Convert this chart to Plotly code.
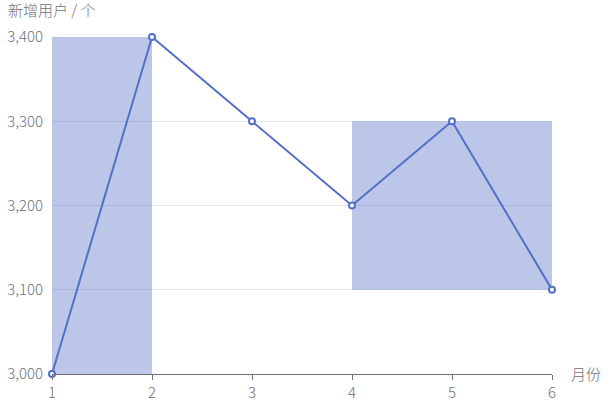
import plotly.graph_objects as go

months = [1, 2, 3, 4, 5, 6]
new_users = [3000, 3400, 3300, 3200, 3300, 3100]

# mark areas: (x start, x end, y start, y end)
area_x0 = [1, 4]
area_x1 = [2, 6]
area_y0 = [3000, 3100]
area_y1 = [3400, 3300]

y_ticks = [3000, 3100, 3200, 3300, 3400]

FONT = "Noto Sans CJK SC, Microsoft YaHei, sans-serif"
AXIS_COLOR = "#6E7079"
FS = 15
FW = 300

fig = go.Figure()

for x0, x1, y0, y1 in zip(area_x0, area_x1, area_y0, area_y1):
    fig.add_shape(type="rect", xref="x", yref="y", x0=x0, x1=x1, y0=y0, y1=y1,
                  fillcolor="rgba(84,112,198,0.4)", line=dict(width=0), layer="between")

fig.add_trace(go.Scatter(
    x=months, y=new_users, mode="lines+markers",
    line=dict(color="#5470c6", width=2),
    marker=dict(symbol="circle", size=6, color="white",
                line=dict(color="#5470c6", width=2)),
    cliponaxis=False, hoverinfo="x+y", showlegend=False,
))

tf = dict(size=FS, color=AXIS_COLOR, family=FONT, weight=FW)

fig.update_layout(
    width=611, height=409,
    margin=dict(l=52, r=59, t=37, b=35, autoexpand=False),
    paper_bgcolor="white", plot_bgcolor="white",
    font=tf,
    xaxis=dict(
        range=[1, 6], tickvals=months, ticktext=[str(m) for m in months],
        showgrid=False, zeroline=False, automargin=False,
        showline=True, linecolor=AXIS_COLOR, linewidth=1,
        ticks="outside", ticklen=5, tickcolor=AXIS_COLOR,
        tickfont=tf,
    ),
    yaxis=dict(
        range=[3000, 3400], tickvals=y_ticks, tickformat=",",
        showgrid=True, gridcolor="#E0E6F1", gridwidth=1, zeroline=False,
        automargin=False,
        showline=False, ticks="", ticklabelstandoff=8,
        tickfont=tf,
    ),
    annotations=[
        dict(text="新增用户 / 个", xref="paper", yref="paper", x=0, y=1,
             xanchor="center", yanchor="bottom", yshift=15, showarrow=False,
             font=tf),
        dict(text="月份", xref="paper", yref="paper", x=1, y=0,
             xanchor="left", yanchor="middle", xshift=17, yshift=1, showarrow=False,
             font=tf),
    ],
)

fig.write_html("out.html", config={"displayModeBar": False},
               post_script="document.body.style.margin='0';")
